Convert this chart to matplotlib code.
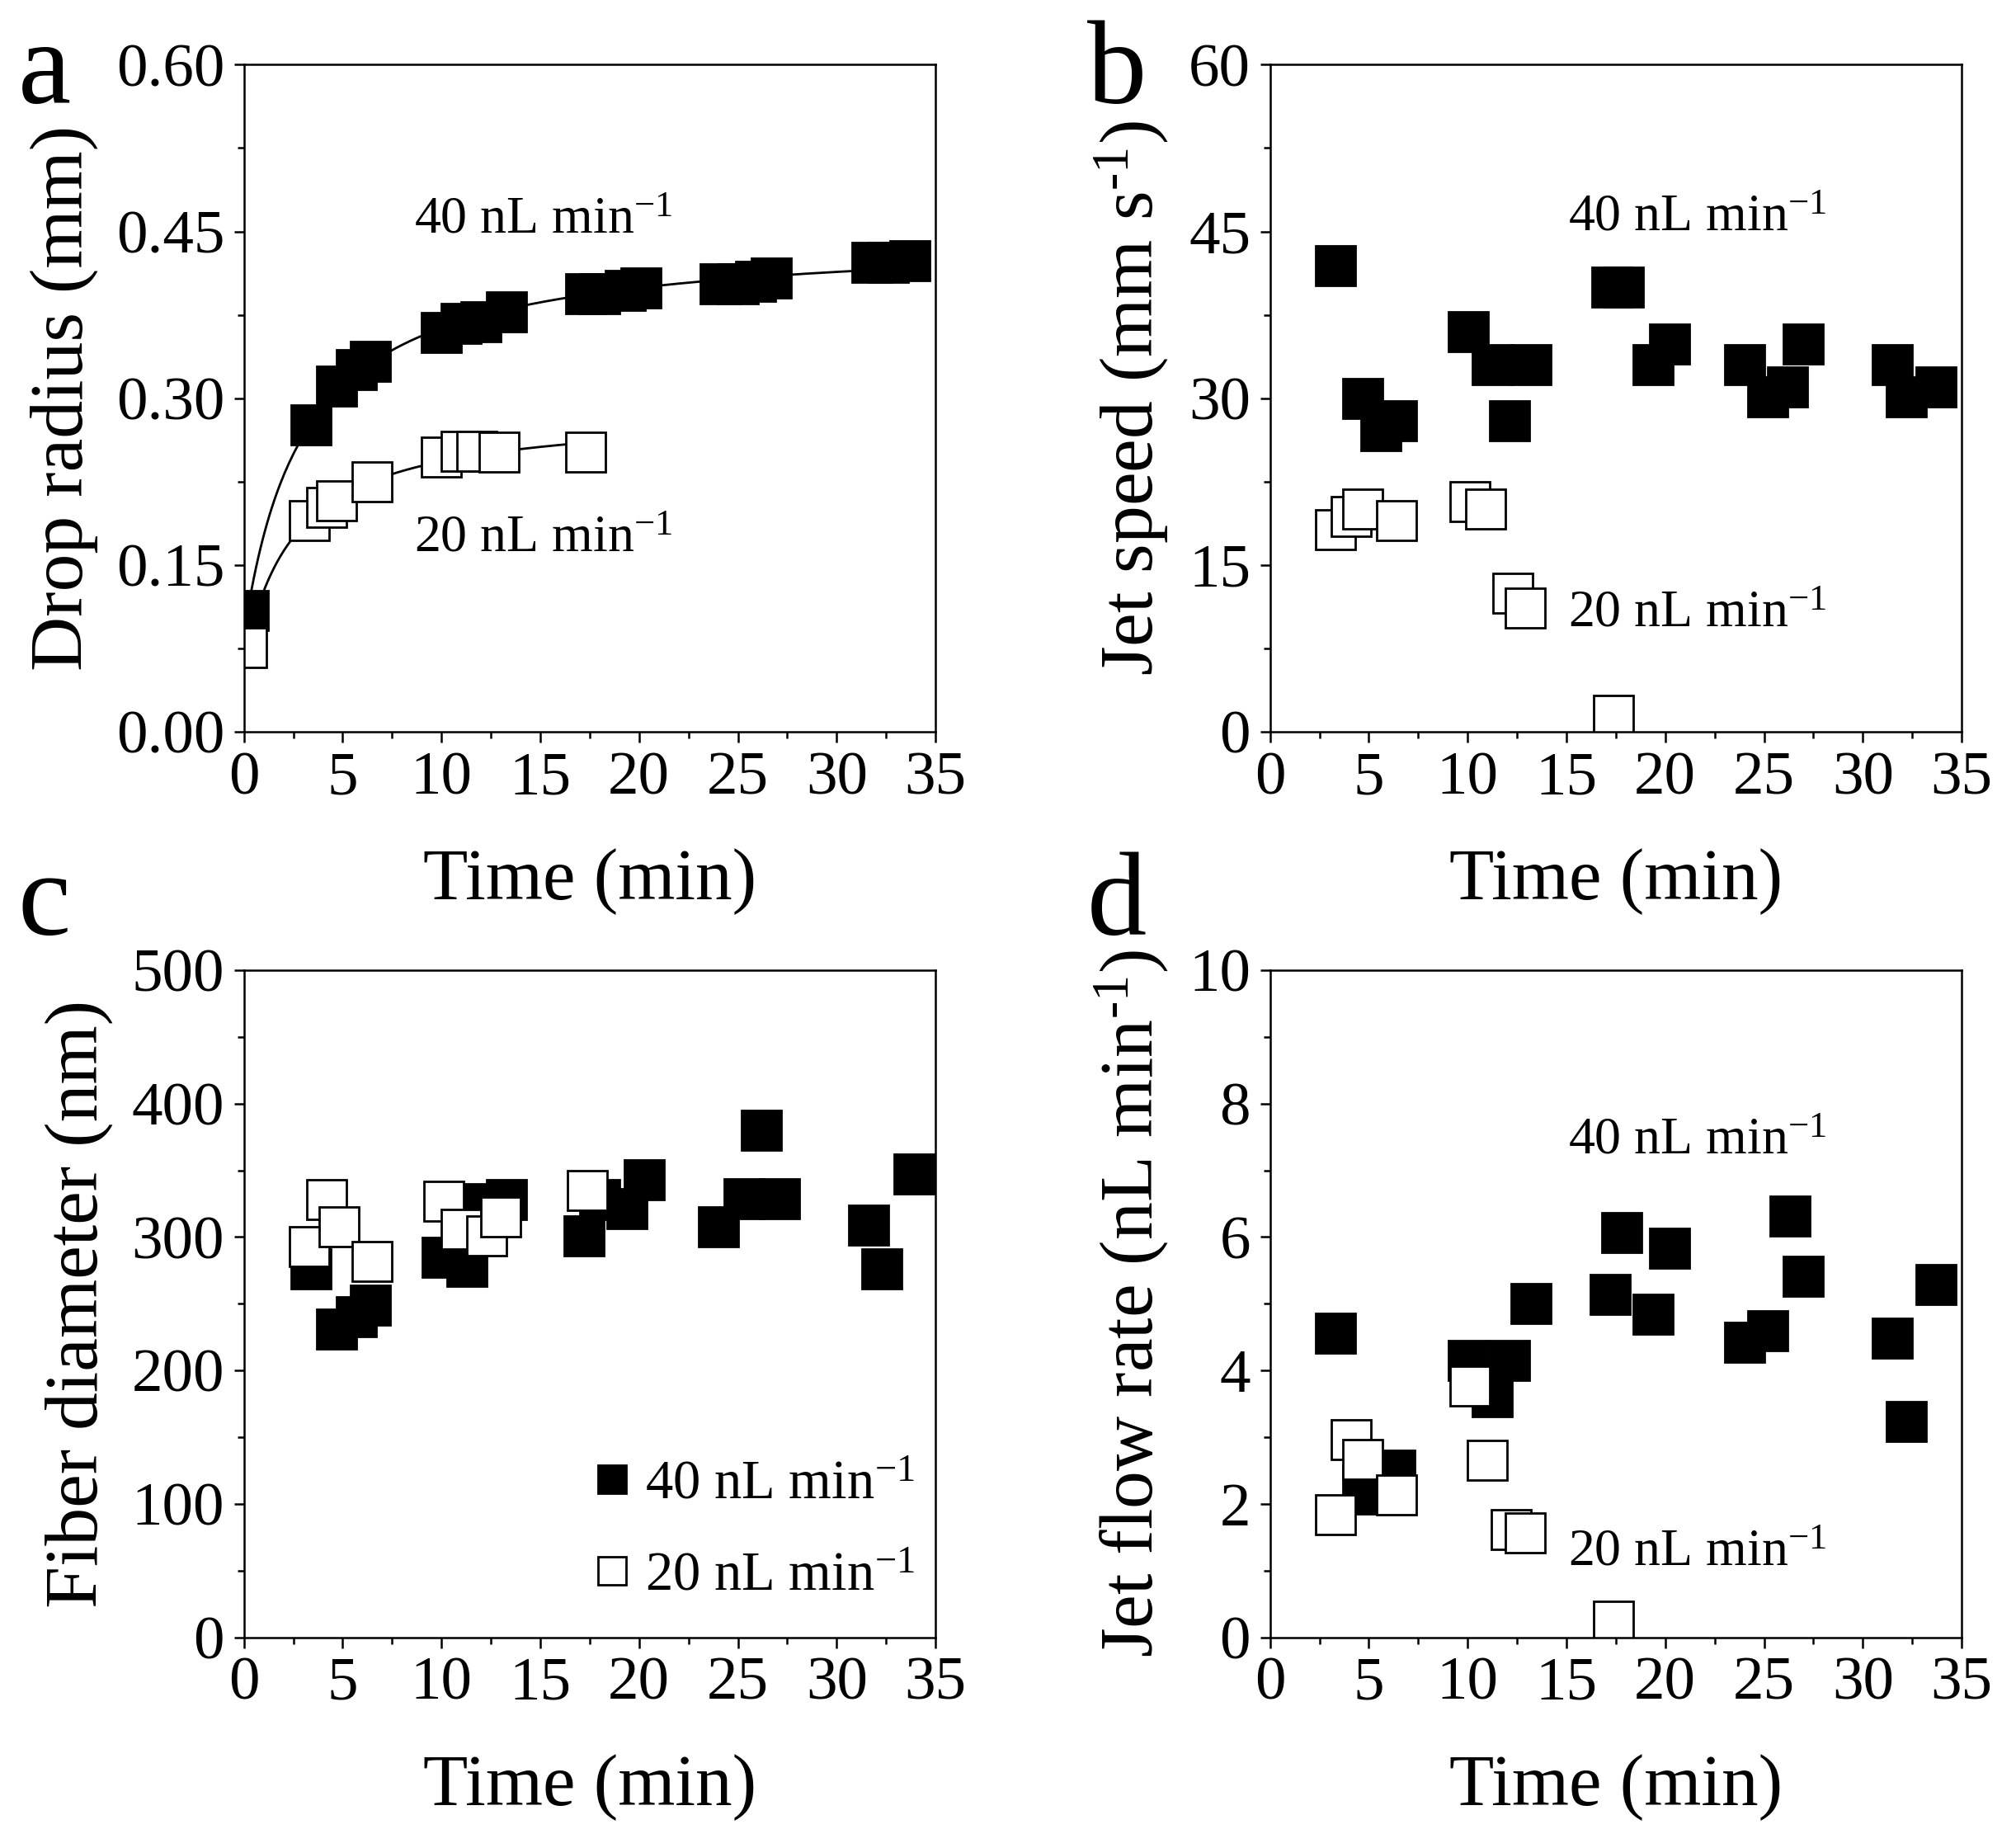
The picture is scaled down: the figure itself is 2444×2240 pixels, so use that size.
import numpy as np
import matplotlib
matplotlib.use("Agg")
import matplotlib.pyplot as plt
from matplotlib.ticker import MultipleLocator, FormatStrFormatter

plt.rcParams['font.family'] = ['Liberation Serif', 'DejaVu Serif']
plt.rcParams['mathtext.fontset'] = 'custom'
plt.rcParams['mathtext.rm'] = 'Liberation Serif'
plt.rcParams['mathtext.it'] = 'Liberation Serif:italic'

# panel a: drop radius (mm)
a40_t = [0.2, 3.4, 4.7, 5.7, 6.4, 10.0, 11.0, 12.0, 13.3, 17.3, 18.0, 19.3, 20.1,
         24.1, 25.0, 25.9, 26.7, 31.8, 32.6, 33.7]
a40_r = [0.109, 0.276, 0.311, 0.326, 0.333, 0.359, 0.367, 0.369, 0.378, 0.394, 0.394,
         0.397, 0.399, 0.403, 0.403, 0.405, 0.408, 0.422, 0.422, 0.424]
a20_t = [0.15, 3.3, 4.2, 4.7, 6.5, 10.0, 11.0, 11.8, 12.9, 17.3]
a20_r = [0.0755, 0.190, 0.2015, 0.208, 0.225, 0.247, 0.2525, 0.2525, 0.2515, 0.2515]

# panel b: jet speed (mm/s)
b40_t = [3.3, 4.7, 5.6, 6.4, 10.05, 11.25, 12.1, 13.2, 17.3, 17.9, 19.4, 20.2,
         24.0, 25.2, 26.2, 27.0, 31.5, 32.2, 33.7]
b40_v = [41.9, 30.0, 27.1, 28.0, 36.0, 33.0, 28.0, 33.0, 40.0, 40.0, 33.0, 34.9,
         33.0, 30.1, 31.0, 34.9, 33.0, 30.1, 31.0]
b20_t = [3.3, 4.1, 4.7, 6.4, 10.1, 10.9, 12.3, 12.9, 17.4]
b20_v = [18.2, 19.4, 20.0, 19.0, 20.7, 20.0, 12.5, 11.1, 1.5]

# panel c: fiber diameter (nm)
c40_t = [3.4, 4.7, 5.7, 6.4, 10.05, 11.3, 12.15, 13.3, 17.2, 18.0, 19.4, 20.25,
         24.0, 25.3, 26.2, 27.1, 31.6, 32.3, 33.9]
c40_d = [276, 231, 240, 249, 285, 278, 325, 328, 301, 328, 321, 343,
         308, 329, 380, 329, 309, 276, 347]
c20_t = [3.3, 4.2, 4.8, 6.5, 10.1, 11.0, 12.3, 13.0, 17.4]
c20_d = [293, 328, 308, 282, 327, 306, 301, 315, 335]

# panel d: jet flow rate (nL/min)
d40_t = [3.3, 4.7, 5.25, 6.3, 10.05, 11.25, 12.1, 13.2, 17.2, 17.8, 19.4, 20.2,
         24.0, 25.2, 26.3, 27.0, 31.5, 32.2, 33.7]
d40_q = [4.56, 2.27, 2.15, 2.51, 4.15, 3.61, 4.15, 5.0, 5.14, 6.07, 4.84, 5.83,
         4.42, 4.60, 6.32, 5.41, 4.48, 3.23, 5.29]
d20_t = [3.3, 4.1, 4.7, 6.4, 10.1, 11.0, 12.2, 12.9, 17.4]
d20_q = [1.84, 2.96, 2.67, 2.13, 3.77, 2.66, 1.61, 1.57, 0.24]

LAB40 = r"40 nL min$^{-1}$"
LAB20 = r"20 nL min$^{-1}$"


def sat_fit(t, r):
    # fit r = y0 + A*t/(K+t), grid search on K
    t = np.asarray(t); r = np.asarray(r)
    best = None
    for K in np.linspace(0.2, 20, 400):
        X = np.column_stack([np.ones_like(t), t / (K + t)])
        coef, *_ = np.linalg.lstsq(X, r, rcond=None)
        err = np.sum((X @ coef - r) ** 2)
        if best is None or err < best[0]:
            best = (err, K, coef)
    _, K, coef = best
    tt = np.linspace(0.05, t.max(), 300)
    return tt, coef[0] + coef[1] * tt / (K + tt)


fig = plt.figure(figsize=(12.22, 11.2), dpi=200)
ax_a = fig.add_axes([0.121, 0.604, 0.343, 0.361])
ax_b = fig.add_axes([0.630, 0.604, 0.343, 0.361])
ax_c = fig.add_axes([0.121, 0.114, 0.343, 0.361])
ax_d = fig.add_axes([0.630, 0.114, 0.343, 0.361])

ms = 17
mew = 1.0
fill_kw = dict(ls='none', marker='s', ms=ms, mfc='black', mec='black', mew=mew)
open_kw = dict(ls='none', marker='s', ms=ms, mfc='white', mec='black', mew=mew)

for ax in (ax_a, ax_b, ax_c, ax_d):
    ax.set_xlim(0, 35)
    ax.xaxis.set_major_locator(MultipleLocator(5))
    ax.xaxis.set_minor_locator(MultipleLocator(2.5))
    ax.tick_params(which='major', direction='out', length=4.5, width=0.9,
                   labelsize=27, top=False, right=False, pad=4)
    ax.tick_params(which='minor', direction='out', length=3, width=0.9,
                   top=False, right=False)
    for s in ax.spines.values():
        s.set_linewidth(0.9)
    ax.set_xlabel("Time (min)", fontsize=32, labelpad=18)

# a
t, r = sat_fit(a40_t, a40_r)
ax_a.plot(t, r, color='black', lw=1.0)
t, r = sat_fit(a20_t, a20_r)
ax_a.plot(t, r, color='black', lw=1.0)
ax_a.plot(a40_t, a40_r, **fill_kw)
ax_a.plot(a20_t, a20_r, **open_kw)
ax_a.set_ylim(0, 0.6)
ax_a.yaxis.set_major_locator(MultipleLocator(0.15))
ax_a.yaxis.set_minor_locator(MultipleLocator(0.075))
ax_a.yaxis.set_major_formatter(FormatStrFormatter('%.2f'))
ax_a.set_ylabel("Drop radius (mm)", fontsize=33, labelpad=8)
ax_a.text(8.6, 0.46, LAB40, fontsize=23, va='center')
ax_a.text(8.6, 0.173, LAB20, fontsize=23, va='center')

# b
ax_b.plot(b40_t, b40_v, **fill_kw)
ax_b.plot(b20_t, b20_v, **open_kw)
ax_b.set_ylim(0, 60)
ax_b.yaxis.set_major_locator(MultipleLocator(15))
ax_b.yaxis.set_minor_locator(MultipleLocator(7.5))
ax_b.set_ylabel(r"Jet speed (mm s$^{\text{-}1}$)", fontsize=33, labelpad=8)
ax_b.text(15.1, 46.2, LAB40, fontsize=23, va='center')
ax_b.text(15.1, 10.6, LAB20, fontsize=23, va='center')

# c
ax_c.plot(c40_t, c40_d, label=LAB40, **fill_kw)
ax_c.plot(c20_t, c20_d, label=LAB20, **open_kw)
ax_c.set_ylim(0, 500)
ax_c.yaxis.set_major_locator(MultipleLocator(100))
ax_c.yaxis.set_minor_locator(MultipleLocator(50))
ax_c.set_ylabel("Fiber diameter (nm)", fontsize=33, labelpad=8)
ax_c.legend(loc='lower right', bbox_to_anchor=(1.022, 0.0), frameon=False,
            fontsize=24, markerscale=0.72, handlelength=0.7, handletextpad=0.25,
            labelspacing=0.75, borderaxespad=0.25)

# d
ax_d.plot(d40_t, d40_q, **fill_kw)
ax_d.plot(d20_t, d20_q, **open_kw)
ax_d.set_ylim(0, 10)
ax_d.yaxis.set_major_locator(MultipleLocator(2))
ax_d.yaxis.set_minor_locator(MultipleLocator(1))
ax_d.set_ylabel(r"Jet flow rate (nL min$^{\text{-}1}$)", fontsize=33, labelpad=8)
ax_d.text(15.1, 7.43, LAB40, fontsize=23, va='center')
ax_d.text(15.1, 1.26, LAB20, fontsize=23, va='center')

for lab, x, y in (("a", 0.022, 0.944), ("b", 0.554, 0.944),
                  ("c", 0.022, 0.494), ("d", 0.554, 0.494)):
    fig.text(x, y, lab, fontsize=52, ha='center', va='baseline')

fig.savefig("out.png", dpi=200)
